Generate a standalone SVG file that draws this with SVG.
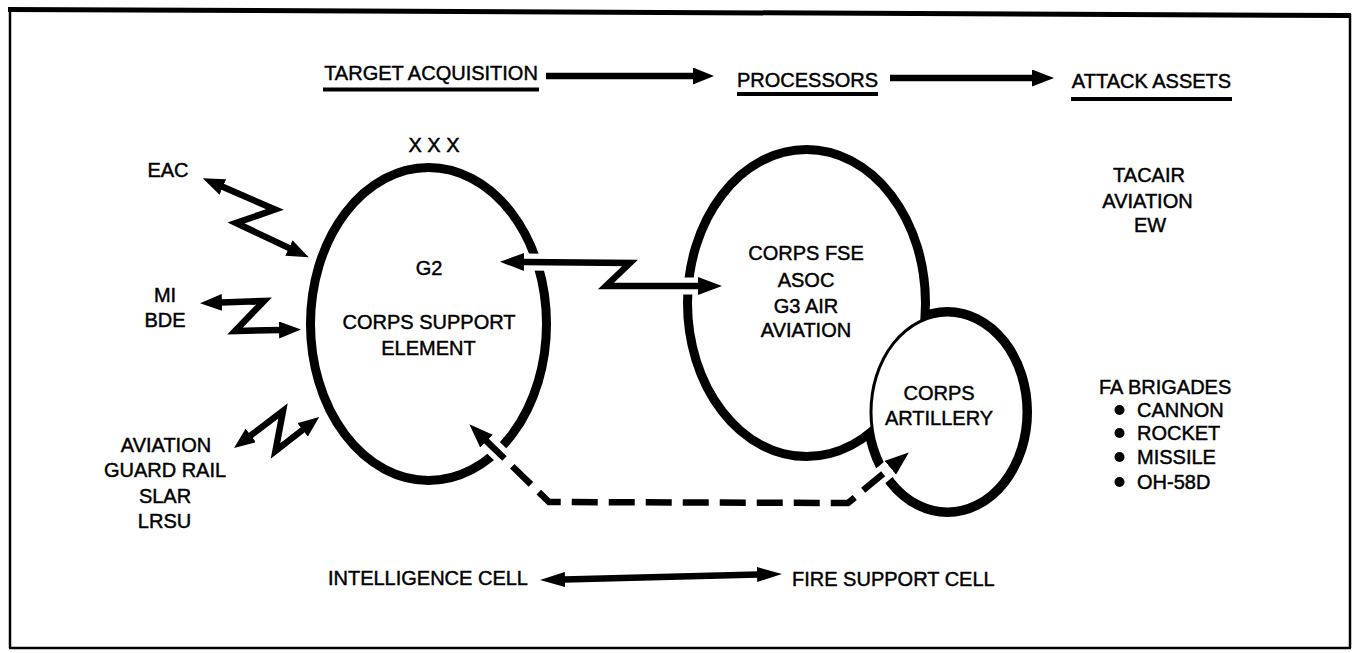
<svg xmlns="http://www.w3.org/2000/svg" width="1354" height="653" viewBox="0 0 1354 653">
  <style>
    text { font-family: "Liberation Sans", Arial, Helvetica, sans-serif; font-size: 20px; fill: #000; stroke: #000; stroke-width: 0.45; }
    .c { text-anchor: middle; }
    .e { text-anchor: end; }
    .ring { fill: #fff; stroke: #000; stroke-width: 9; }
    .shaft { fill: none; stroke: #000; stroke-width: 6.5; stroke-linejoin: miter; stroke-miterlimit: 10; }
    .halo { fill: none; stroke: #fff; stroke-width: 17; stroke-linejoin: round; }
    .uline { stroke: #000; stroke-width: 4; }
  </style>
  <defs>
    <marker id="headTop" viewBox="0 0 21 17" refX="1" refY="8.5" markerWidth="21" markerHeight="17" markerUnits="userSpaceOnUse" orient="auto-start-reverse">
      <path d="M0,0 L21,8.5 L0,17 z" fill="#000"/>
    </marker>
    <marker id="headLink" viewBox="0 0 22 17" refX="1" refY="8.5" markerWidth="22" markerHeight="17" markerUnits="userSpaceOnUse" orient="auto-start-reverse">
      <path d="M0,0 L22,8.5 L0,17 z" fill="#000"/>
    </marker>
    <marker id="headWide" viewBox="0 0 24 18" refX="1" refY="9" markerWidth="24" markerHeight="18" markerUnits="userSpaceOnUse" orient="auto-start-reverse">
      <path d="M0,0 L24,9 L0,18 z" fill="#000"/>
    </marker>
    <marker id="headFlat" viewBox="0 0 25 15" refX="1" refY="7.5" markerWidth="25" markerHeight="15" markerUnits="userSpaceOnUse" orient="auto-start-reverse">
      <path d="M0,0 L25,7.5 L0,15 z" fill="#000"/>
    </marker>
  </defs>

  <rect width="1354" height="653" fill="#fff"/>

  <!-- outer frame -->
  <g id="frame">
    <path d="M8,7 L1351,13 L1351,18 L8,12 z" fill="#000"/>
    <line x1="10" y1="9" x2="10" y2="648" stroke="#000" stroke-width="2.5"/>
    <line x1="1350" y1="14" x2="1350" y2="648" stroke="#000" stroke-width="2.5"/>
    <line x1="9" y1="648" x2="1351" y2="648" stroke="#000" stroke-width="2.5"/>
  </g>

  <!-- column headings -->
  <g id="headings">
    <text class="c" x="431" y="80">TARGET ACQUISITION</text>
    <line class="uline" x1="323" y1="89.5" x2="539" y2="89.5"/>
    <text class="c" x="807.5" y="87">PROCESSORS</text>
    <line class="uline" x1="737" y1="94" x2="878" y2="94"/>
    <text class="c" x="1151.5" y="88">ATTACK ASSETS</text>
    <line class="uline" x1="1071" y1="99" x2="1232" y2="99"/>
  </g>

  <!-- G2 / corps support element -->
  <g id="node-g2">
    <ellipse class="ring" cx="428.5" cy="324" rx="118" ry="156.5"/>
    <text class="c" x="434" y="152">X X X</text>
    <text class="c" x="429" y="275">G2</text>
    <text class="c" x="429" y="329">CORPS SUPPORT</text>
    <text class="c" x="428.5" y="355">ELEMENT</text>
  </g>

  <!-- corps FSE joined with corps artillery -->
  <g id="node-fse">
    <ellipse cx="806.5" cy="303" rx="114.5" ry="149" fill="none" stroke="#000" stroke-width="18"/>
  </g>
  <g id="node-artillery">
    <ellipse cx="947.5" cy="412" rx="76" ry="96.5" fill="none" stroke="#000" stroke-width="17"/>
    <ellipse cx="806.5" cy="303" rx="114.5" ry="149" fill="#fff"/>
    <ellipse cx="947.5" cy="412" rx="76" ry="96.5" fill="#fff"/>
    <ellipse cx="947.5" cy="412" rx="76.5" ry="97" fill="none" stroke="#000" stroke-width="3"/>
    <text class="c" x="939" y="400">CORPS</text>
    <text class="c" x="939" y="425">ARTILLERY</text>
  </g>
  <g id="node-fse-labels">
    <text class="c" x="806" y="260">CORPS FSE</text>
    <text class="c" x="806" y="286.5">ASOC</text>
    <text class="c" x="806" y="312.5">G3 AIR</text>
    <text class="c" x="806" y="336.5">AVIATION</text>
  </g>

  <!-- collection sources -->
  <g id="node-eac">
    <text class="c" x="168" y="177">EAC</text>
  </g>
  <g id="node-mi">
    <text class="c" x="165" y="302">MI</text>
    <text class="c" x="165" y="327">BDE</text>
  </g>
  <g id="node-aviation">
    <text class="c" x="166" y="452">AVIATION</text>
    <text class="c" x="165" y="477">GUARD RAIL</text>
    <text class="c" x="165" y="503">SLAR</text>
    <text class="c" x="164.5" y="528">LRSU</text>
  </g>

  <!-- attack assets -->
  <g id="node-tacair">
    <text class="c" x="1149" y="182">TACAIR</text>
    <text class="c" x="1147.5" y="208">AVIATION</text>
    <text class="c" x="1150" y="232">EW</text>
  </g>
  <g id="node-fa">
    <text x="1099" y="394">FA BRIGADES</text>
    <circle cx="1119.5" cy="410" r="5"/>
    <text x="1137" y="417">CANNON</text>
    <circle cx="1119.5" cy="433" r="5"/>
    <text x="1137" y="440">ROCKET</text>
    <circle cx="1119.5" cy="457" r="5"/>
    <text x="1137" y="464">MISSILE</text>
    <circle cx="1119.5" cy="482" r="5"/>
    <text x="1137" y="489">OH-58D</text>
  </g>

  <!-- cells -->
  <g id="node-cells">
    <text class="e" x="528" y="585">INTELLIGENCE CELL</text>
    <text x="792" y="586">FIRE SUPPORT CELL</text>
  </g>

  <!-- connectors -->
  <g id="connectors">
    <line class="shaft" x1="546" y1="76" x2="694" y2="76" marker-end="url(#headTop)"/>
    <line class="shaft" x1="890" y1="78" x2="1033" y2="78" marker-end="url(#headLink)"/>

    <polyline class="shaft" points="222,186.6 275,209.5 236,223 289.8,248.4" marker-start="url(#headLink)" marker-end="url(#headLink)"/>
    <polyline class="shaft" points="221,302.5 264,301 235,331 280,330" marker-start="url(#headLink)" marker-end="url(#headLink)"/>
    <polyline class="shaft" points="250,436 283,411 275.5,451 303.4,429.3" marker-start="url(#headTop)" marker-end="url(#headTop)"/>

    <polyline class="halo" points="523,262 630,263 606,286 699,286"/>
    <polyline class="shaft" points="523,262 630,263 606,286 699,286" marker-start="url(#headWide)" marker-end="url(#headWide)"/>

    <polyline class="halo" points="485.8,440.4 549,502 848,503 891.1,467.1"/>
    <polyline class="shaft" points="485.8,440.4 549,502 848,503 891.1,467.1" stroke-width="7.5" stroke-dasharray="26 11" marker-start="url(#headWide)" marker-end="url(#headWide)"/>

    <line class="shaft" x1="564" y1="579.5" x2="758" y2="574.5" marker-start="url(#headFlat)" marker-end="url(#headFlat)"/>
  </g>
</svg>
